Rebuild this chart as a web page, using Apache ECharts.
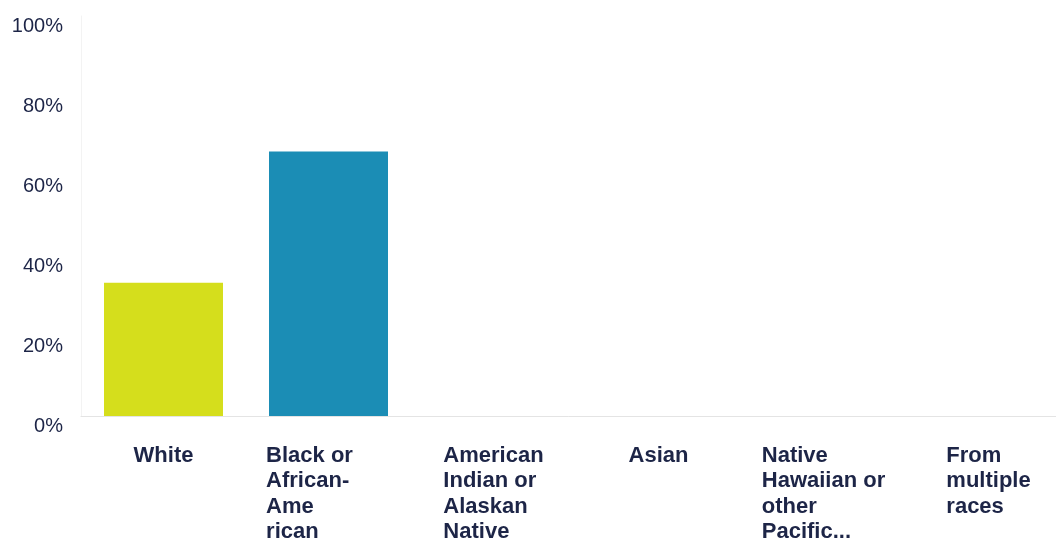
<!DOCTYPE html>
<html>
<head>
<meta charset="utf-8">
<script src="https://cdn.jsdelivr.net/npm/echarts@6/dist/echarts.min.js"></script>
<style>
  html, body { margin: 0; padding: 0; background: #ffffff; }
  #chart { width: 1056px; height: 541px; }
</style>
</head>
<body>
<div id="chart"></div>
<script>
// Race categories (line breaks as they wrap under the axis)
const categories = [
  'White',
  'Black or\nAfrican-\nAme\nrican',
  'American\nIndian or\nAlaskan\nNative',
  'Asian',
  'Native\nHawaiian or\nother\nPacific...',
  'From\nmultiple\nraces'
];
// Share of respondents per category, in percent
const values = [33.3, 66.1, 0, 0, 0, 0];
const barColors = ['#d5de1c', '#1b8db5', '#1b8db5', '#1b8db5', '#1b8db5', '#1b8db5'];
// Y tick range, in percent
const yMin = 0, yMax = 100, yStep = 20;

const textColor = '#1d2547';
const font = '"Liberation Sans", Arial, sans-serif';

const chart = echarts.init(document.getElementById('chart'), null, { renderer: 'canvas' });

const categoryData = categories.map((c, i) => {
  const item = { value: c };
  // the two-word label sits a little left of its bar
  if (i === 1) item.textStyle = { padding: [0, 38, 0, 0] };
  return item;
});

chart.setOption({
  animation: false,
  backgroundColor: '#ffffff',
  grid: {
    left: 81, top: 16, width: 990, bottom: 125,
    containLabel: false,
    outerBoundsMode: 'none'
  },
  xAxis: {
    type: 'category',
    data: categoryData,
    axisLine: { show: true, lineStyle: { color: '#e4e4e4', width: 1 } },
    axisTick: { show: false },
    splitLine: { show: false },
    axisLabel: {
      interval: 0,
      margin: 27,
      formatter: v => v.split('\n').map(s => '{l|' + s + '}').join('\n'),
      rich: {
        l: {
          align: 'left',
          fontSize: 22,
          fontWeight: 'bold',
          fontFamily: font,
          color: textColor,
          lineHeight: 25.5
        }
      }
    }
  },
  yAxis: {
    type: 'value',
    min: yMin,
    max: yMax,
    interval: yStep,
    axisLine: { show: true, lineStyle: { color: '#f3f3f3', width: 1 } },
    axisTick: { show: false },
    splitLine: { show: false },
    axisLabel: {
      formatter: '{value}%',
      fontSize: 20,
      fontFamily: font,
      color: textColor,
      margin: 18,
      verticalAlign: 'top',
      lineHeight: 20
    }
  },
  series: [{
    type: 'bar',
    data: values.map((v, i) => ({ value: v, itemStyle: { color: barColors[i] } })),
    barWidth: 119
  }]
});
</script>
</body>
</html>
